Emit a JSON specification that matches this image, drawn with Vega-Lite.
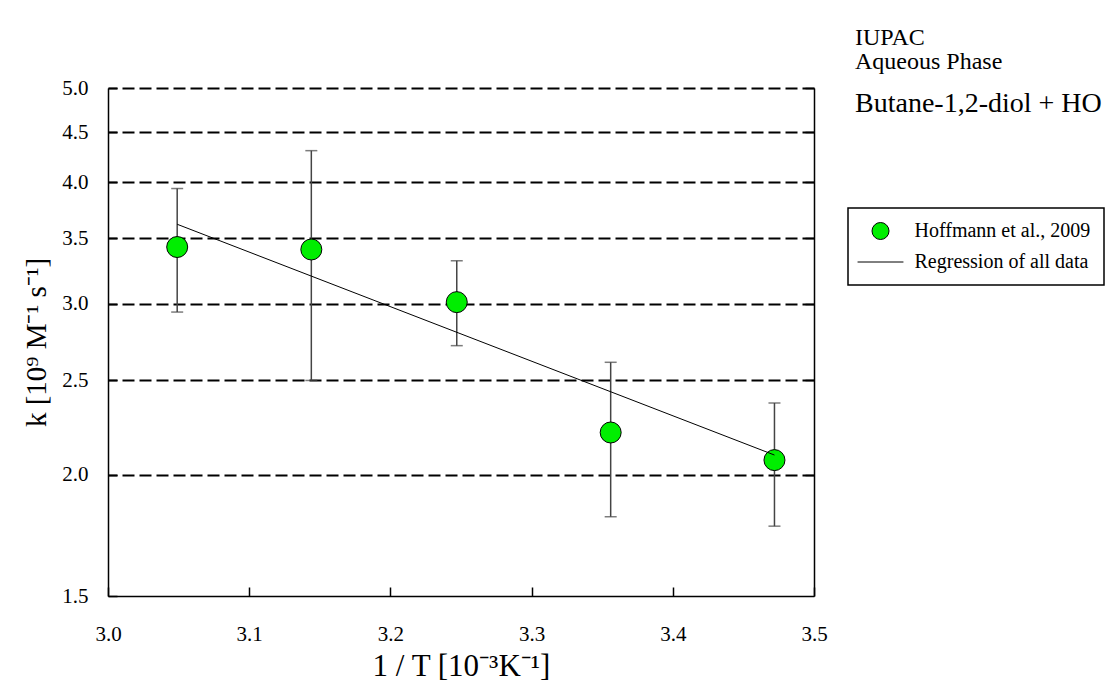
{
  "$schema": "https://vega.github.io/schema/vega-lite/v6.json",
  "width": 706,
  "height": 508,
  "autosize": {"type": "none"},
  "padding": {"left": 108, "top": 88, "right": 299, "bottom": 96},
  "background": "white",
  "config": {
    "view": {"stroke": null},
    "font": "Liberation Serif",
    "axis": {
      "labelFont": "Liberation Serif",
      "titleFont": "Liberation Serif",
      "labelColor": "black",
      "titleColor": "black",
      "titleFontWeight": "normal",
      "domainColor": "black",
      "tickColor": "black",
      "domainWidth": 1.5,
      "tickWidth": 1.5,
      "labelFlush": false
    },
    "legend": {
      "labelFont": "Liberation Serif",
      "labelLimit": 400
    }
  },
  "title": {
    "text": ["IUPAC", "Aqueous Phase"],
    "subtitle": "Butane-1,2-diol + HO",
    "anchor": "start",
    "frame": "group",
    "orient": "top",
    "dx": 747,
    "offset": -41,
    "font": "Liberation Serif",
    "fontSize": 24,
    "fontWeight": "normal",
    "lineHeight": 24,
    "color": "black",
    "subtitleFont": "Liberation Serif",
    "subtitleFontSize": 28,
    "subtitleColor": "black",
    "subtitlePadding": 16
  },
  "datasets": {
    "points": [
      {"x": 3.049, "k": 3.43, "lo": 2.94, "hi": 3.94, "series": "Hoffmann et al., 2009"},
      {"x": 3.144, "k": 3.41, "lo": 2.50, "hi": 4.31, "series": "Hoffmann et al., 2009"},
      {"x": 3.247, "k": 3.01, "lo": 2.715, "hi": 3.32, "series": "Hoffmann et al., 2009"},
      {"x": 3.356, "k": 2.21, "lo": 1.81, "hi": 2.61, "series": "Hoffmann et al., 2009"},
      {"x": 3.472, "k": 2.07, "lo": 1.77, "hi": 2.37, "series": "Hoffmann et al., 2009"}
    ],
    "regression": [
      {"x": 3.049, "k": 3.62},
      {"x": 3.472, "k": 2.095}
    ]
  },
  "layer": [
    {
      "data": {"name": "points"},
      "mark": {"type": "rule", "color": "#444444", "strokeWidth": 1.5},
      "encoding": {
        "x": {
          "field": "x", "type": "quantitative",
          "scale": {"domain": [3.0, 3.5], "nice": false, "zero": false},
          "axis": {
            "orient": "bottom",
            "values": [3.0, 3.1, 3.2, 3.3, 3.4, 3.5],
            "format": ".1f",
            "grid": false,
            "tickSize": -9,
            "labelPadding": 36,
            "labelFlush": false,
            "labelFont": "Liberation Serif",
            "labelFontSize": 21,
            "title": "1 / T [10⁻³K⁻¹]",
            "titleFont": "Liberation Serif",
            "titleFontSize": 31,
            "titlePadding": 7
          }
        },
        "y": {
          "field": "lo", "type": "quantitative",
          "scale": {"type": "log", "domain": [1.5, 5], "nice": false},
          "axis": {
            "orient": "left",
            "values": [1.5, 2, 2.5, 3, 3.5, 4, 4.5, 5],
            "format": ".1f",
            "grid": false,
            "tickSize": -9,
            "labelPadding": 29,
            "labelFlush": false,
            "labelFont": "Liberation Serif",
            "labelFontSize": 21,
            "title": "k [10⁹ M⁻¹ s⁻¹]",
            "titleFont": "Liberation Serif",
            "titleFontSize": 29,
            "titlePadding": 10
          }
        },
        "y2": {"field": "hi"}
      }
    },
    {
      "data": {"name": "points"},
      "mark": {"type": "tick", "orient": "horizontal", "color": "#444444", "thickness": 1.5, "size": 12},
      "encoding": {
        "x": {"field": "x", "type": "quantitative"},
        "y": {"field": "lo", "type": "quantitative", "axis": null}
      }
    },
    {
      "data": {"name": "points"},
      "mark": {"type": "tick", "orient": "horizontal", "color": "#444444", "thickness": 1.5, "size": 12},
      "encoding": {
        "x": {"field": "x", "type": "quantitative"},
        "y": {"field": "hi", "type": "quantitative", "axis": null}
      }
    },
    {
      "data": {"name": "points"},
      "mark": {"type": "point", "filled": true, "stroke": "black", "strokeWidth": 1, "size": 441, "opacity": 1},
      "encoding": {
        "x": {"field": "x", "type": "quantitative"},
        "y": {
          "field": "k", "type": "quantitative",
          "axis": {
            "orient": "right",
            "values": [2, 2.5, 3, 3.5, 4, 4.5, 5],
            "labels": false,
            "title": null,
            "tickSize": -9,
            "grid": true,
            "gridColor": "black",
            "gridDash": [12, 5],
            "gridWidth": 1.8,
            "gridOpacity": 1
          }
        },
        "fill": {
          "field": "series", "type": "nominal",
          "scale": {"domain": ["Hoffmann et al., 2009", "Regression of all data"], "range": ["#00ee00", "black"]},
          "legend": {
            "title": null,
            "orient": "none",
            "legendX": 740,
            "legendY": 120,
            "strokeColor": "black",
            "padding": 13,
            "labelFont": "Liberation Serif",
            "labelFontSize": 20,
            "labelLimit": 400,
            "labelColor": "black",
            "symbolStrokeColor": "black",
            "symbolStrokeWidth": 1,
            "symbolSize": 289,
            "symbolOpacity": 1,
            "symbolOffset": 9.5,
            "rowPadding": 10,
            "labelOffset": 24,
            "encode": {"legend": {"update": {"strokeWidth": {"value": 1.5}}}}
          }
        },
        "shape": {
          "field": "series", "type": "nominal",
          "scale": {"domain": ["Hoffmann et al., 2009", "Regression of all data"], "range": ["circle", "M-2.7,0H2.7"]}
        }
      }
    },
    {
      "data": {"name": "regression"},
      "mark": {"type": "line", "color": "black", "strokeWidth": 1},
      "encoding": {
        "x": {"field": "x", "type": "quantitative"},
        "y": {"field": "k", "type": "quantitative", "axis": null}
      }
    }
  ],
  "resolve": {"axis": {"y": "independent"}}
}
